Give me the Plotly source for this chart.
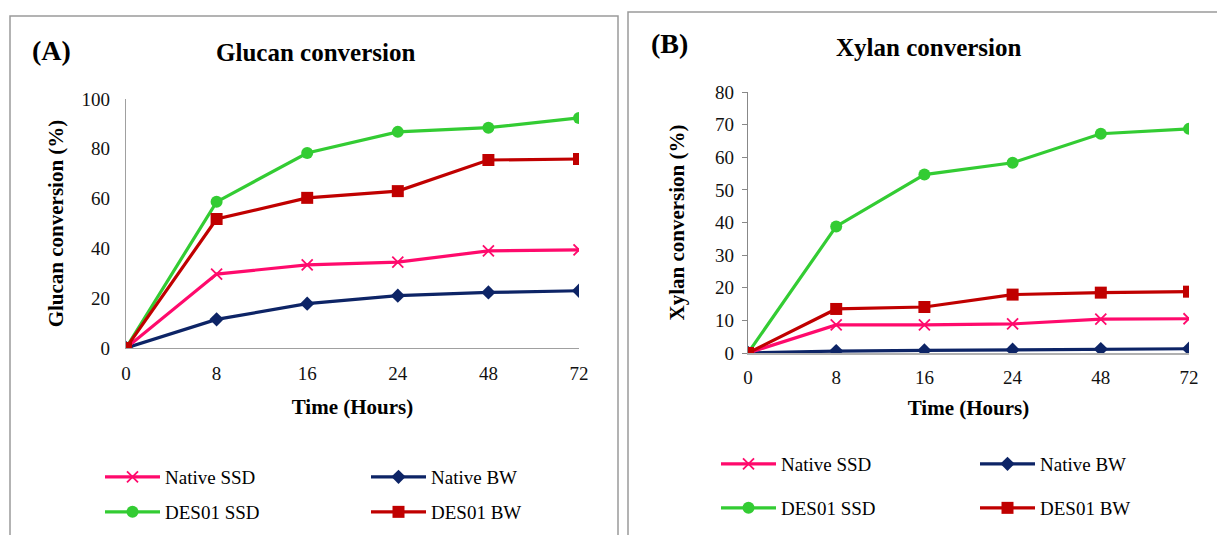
import plotly.graph_objects as go

W, H = 1217, 535

hours = ["0", "8", "16", "24", "48", "72"]

glucan_native_ssd = [0, 29.7, 33.4, 34.5, 39.0, 39.4]
glucan_native_bw = [0, 11.5, 17.8, 21.0, 22.3, 23.0]
glucan_des01_ssd = [0, 58.7, 78.3, 86.8, 88.5, 92.4]
glucan_des01_bw = [0, 51.8, 60.3, 63.0, 75.5, 75.9]

xylan_native_ssd = [0, 8.6, 8.6, 8.9, 10.4, 10.5]
xylan_native_bw = [0, 0.6, 0.8, 1.0, 1.2, 1.3]
xylan_des01_ssd = [0, 38.8, 54.7, 58.3, 67.2, 68.7]
xylan_des01_bw = [0, 13.5, 14.1, 17.9, 18.5, 18.8]

series_names = ["Native SSD", "Native BW", "DES01 SSD", "DES01 BW"]
colors = ["#FF0A6C", "#0D2466", "#33CC33", "#C00000"]

FONT = "Liberation Serif"


def px(x):
    return x / W


def py(y):
    return 1 - y / H


def marker_for(i):
    if i == 0:
        return dict(symbol="x-thin", size=11, color=colors[0], line=dict(width=1.8, color=colors[0]))
    if i == 1:
        return dict(symbol="diamond", size=11, color=colors[1], line=dict(width=0))
    if i == 2:
        return dict(symbol="circle", size=12, color=colors[2], line=dict(width=0))
    return dict(symbol="square", size=12, color=colors[3], line=dict(width=0))


fig = go.Figure()

left_data = [glucan_native_ssd, glucan_native_bw, glucan_des01_ssd, glucan_des01_bw]
right_data = [xylan_native_ssd, xylan_native_bw, xylan_des01_ssd, xylan_des01_bw]
left_legends = ["legend", "legend", "legend2", "legend2"]
right_legends = ["legend3", "legend3", "legend4", "legend4"]

draw_order = [1, 0, 2, 3]
for i in draw_order:
    fig.add_trace(go.Scatter(
        x=hours, y=left_data[i], name=series_names[i], mode="lines+markers",
        line=dict(color=colors[i], width=3.2), marker=marker_for(i),
        xaxis="x", yaxis="y", legend=left_legends[i], legendrank=i,
    ))
for i in draw_order:
    fig.add_trace(go.Scatter(
        x=hours, y=right_data[i], name=series_names[i], mode="lines+markers",
        line=dict(color=colors[i], width=3.2), marker=marker_for(i),
        xaxis="x2", yaxis="y2", legend=right_legends[i], legendrank=i,
    ))

axis_gray = "#A0A0A0"
tickfont = dict(family=FONT, size=19, color="#111111")
titlefont = dict(family=FONT, size=21, color="#000000", weight="bold")

fig.update_layout(
    width=W, height=H,
    margin=dict(l=0, r=0, t=0, b=0, autoexpand=False),
    paper_bgcolor="white", plot_bgcolor="rgba(0,0,0,0)",
    font=dict(family=FONT, size=18, color="#111111"),
    xaxis=dict(
        domain=[px(126), px(579)], anchor="y", type="category", range=[0, 5],
        showline=True, linecolor=axis_gray, linewidth=1.3, showgrid=False, zeroline=False,
        ticks="", tickfont=tickfont, ticklabelstandoff=8, automargin=False,
        title=dict(text="Time (Hours)", font=titlefont, standoff=16),
    ),
    yaxis=dict(
        domain=[py(348), py(99)], anchor="x", range=[0, 100], tickvals=[0, 20, 40, 60, 80, 100],
        showline=True, linecolor=axis_gray, linewidth=1.3, showgrid=False, zeroline=False,
        ticks="", tickfont=tickfont, ticklabelstandoff=11, automargin=False,
        title=dict(text="Glucan conversion (%)", font=titlefont, standoff=12),
    ),
    xaxis2=dict(
        domain=[px(748), px(1189)], anchor="y2", type="category", range=[0, 5],
        showline=True, linecolor="#B0B0B0", linewidth=2, showgrid=False, zeroline=False,
        ticks="", tickfont=tickfont, ticklabelstandoff=6, automargin=False,
        title=dict(text="Time (Hours)", font=titlefont, standoff=14),
    ),
    yaxis2=dict(
        domain=[py(353), py(92)], anchor="x2", range=[0, 80], tickvals=list(range(0, 81, 10)),
        showline=True, linecolor="#888888", linewidth=1.3, showgrid=False, zeroline=False,
        ticks="outside", ticklen=5, tickcolor="#888888", tickwidth=1.3,
        tickfont=tickfont, ticklabelstandoff=4, automargin=False,
        title=dict(text="Xylan conversion (%)", font=titlefont, standoff=24),
    ),
    showlegend=True,
)

legend_common = dict(
    orientation="h", xanchor="left", yanchor="middle",
    font=dict(family=FONT, size=19, color="#000000"),
    bgcolor="rgba(0,0,0,0)", borderwidth=0,
    itemwidth=55, entrywidthmode="pixels",
    traceorder="normal", itemclick=False, itemdoubleclick=False,
)
fig.update_layout(
    legend=dict(x=px(100), y=py(477), entrywidth=196, **legend_common),
    legend2=dict(x=px(100), y=py(512), entrywidth=196, **legend_common),
    legend3=dict(x=px(716), y=py(464), entrywidth=189, **legend_common),
    legend4=dict(x=px(716), y=py(508), entrywidth=189, **legend_common),
)

# Panel borders
fig.add_shape(type="rect", xref="paper", yref="paper",
              x0=px(10), x1=px(618), y0=py(540), y1=py(16),
              line=dict(color="#9A9A9A", width=1.5), fillcolor="rgba(0,0,0,0)", layer="below")
fig.add_shape(type="rect", xref="paper", yref="paper",
              x0=px(628), x1=px(1222), y0=py(540), y1=py(12),
              line=dict(color="#9A9A9A", width=1.5), fillcolor="rgba(0,0,0,0)", layer="below")

annots = [
    dict(text="(A)", x=px(51), y=py(50), size=28),
    dict(text="Glucan conversion", x=px(315), y=py(52), size=25),
    dict(text="(B)", x=px(669), y=py(44), size=28),
    dict(text="Xylan conversion", x=px(929), y=py(48), size=25),
]
for a in annots:
    fig.add_annotation(text=a["text"], x=a["x"], y=a["y"], xref="paper", yref="paper",
                       xanchor="center", yanchor="middle", showarrow=False,
                       font=dict(family=FONT, size=a["size"], color="#000000", weight="bold"))

fig.write_html(
    "out.html",
    config={"displayModeBar": False},
    post_script="document.body.style.margin='0';document.body.style.overflow='hidden';",
)
